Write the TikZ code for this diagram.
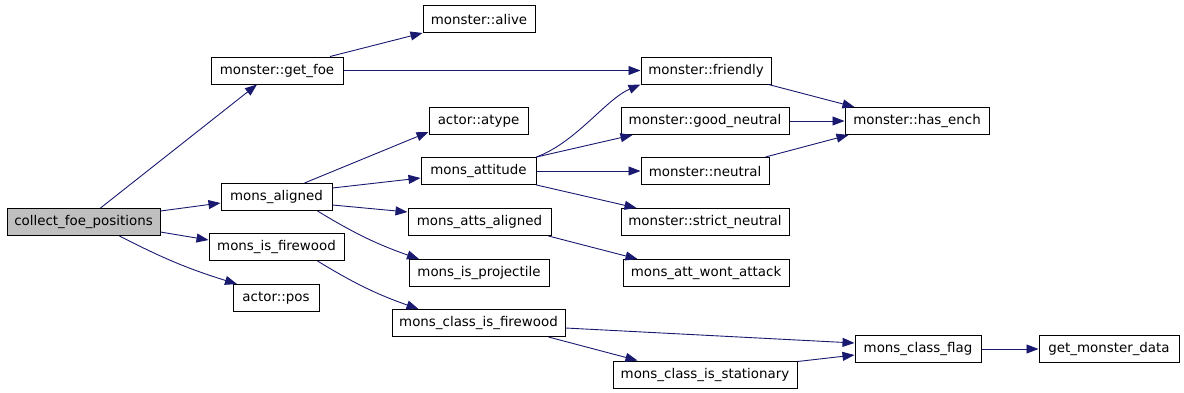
\documentclass[tikz,border=0pt]{standalone}
\usepackage{fontspec}
\setmainfont{DejaVu Sans}
\usepackage{tikz}
\usetikzlibrary{arrows.meta}

\definecolor{callblue}{HTML}{191970}
\definecolor{rootgrey}{HTML}{BFBFBF}

\tikzset{
	fn/.style={shape=rectangle,draw=black,line width=1pt,minimum height=27pt,inner sep=0pt,font=\fontsize{13.4}{15}\selectfont},
	call/.style={color=callblue,line width=0.9pt,-{Triangle[length=12pt,width=9pt]}}
}

\begin{document}
\begin{tikzpicture}[x=1pt,y=-1pt]
	\useasboundingbox (0, 0) rectangle (1184, 392);

	\node[fn,fill=rootgrey,minimum width=153] (cfp) at (83.5, 222)  {collect\_foe\_positions};
	\node[fn,minimum width=132] (getfoe)   at (277, 70.5)   {monster::get\_foe};
	\node[fn,minimum width=112] (alive)    at (479, 19)     {monster::alive};
	\node[fn,minimum width=130] (friendly) at (706, 70.5)   {monster::friendly};
	\node[fn,minimum width=99]  (atype)    at (478.5, 121)  {actor::atype};
	\node[fn,minimum width=168] (goodneut) at (705, 121)    {monster::good\_neutral};
	\node[fn,minimum width=144] (hasench)  at (917, 121)    {monster::has\_ench};
	\node[fn,minimum width=111] (aligned)  at (276.5, 197)  {mons\_aligned};
	\node[fn,minimum width=115] (attitude) at (478.5, 171)  {mons\_attitude};
	\node[fn,minimum width=128] (neutral)  at (705, 171)    {monster::neutral};
	\node[fn,minimum width=143] (attsal)   at (479.5, 222)  {mons\_atts\_aligned};
	\node[fn,minimum width=168] (strictn)  at (705, 222)    {monster::strict\_neutral};
	\node[fn,minimum width=135] (firewood) at (276.5, 247)  {mons\_is\_firewood};
	\node[fn,minimum width=140] (project)  at (479, 273)    {mons\_is\_projectile};
	\node[fn,minimum width=166] (wontatt)  at (706, 273)    {mons\_att\_wont\_attack};
	\node[fn,minimum width=86]  (pos)      at (276, 298)    {actor::pos};
	\node[fn,minimum width=173] (clsfire)  at (478.5, 323)  {mons\_class\_is\_firewood};
	\node[fn,minimum width=184] (clsstat)  at (705, 374.5)  {mons\_class\_is\_stationary};
	\node[fn,minimum width=126] (clsflag)  at (918, 349)    {mons\_class\_flag};
	\node[fn,minimum width=140] (getdata)  at (1109, 349)   {get\_monster\_data};

	% calls from collect_foe_positions
	\path[call] ([xshift=17pt]cfp.north) edge ([xshift=-20pt]getfoe.south);
	\path[call] ([yshift=11pt]cfp.east) edge ([yshift=-6pt]aligned.west);
	\path[call] ([yshift=-10pt]cfp.east) edge ([yshift=7pt]firewood.west);
	\path[call] ([xshift=36pt]cfp.south) edge [bend right=5] ([xshift=-39pt]pos.north);

	\path[call] ([xshift=53pt]getfoe.north) edge (alive.south west);
	\path[call] (getfoe.east) edge (friendly.west);

	\path[call] ([xshift=-3pt]friendly.south east) edge ([xshift=10pt]hasench.north west);
	\path[call] (goodneut.east) edge (hasench.west);
	\path[call] ([xshift=-4pt]neutral.north east) edge ([xshift=4pt]hasench.south west);

	% calls from mons_aligned
	\path[call] ([xshift=28pt]aligned.north) edge ([yshift=3pt]atype.south west);
	\path[call] ([yshift=9pt]aligned.east) edge ([yshift=-7pt]attitude.west);
	\path[call] ([yshift=-8pt]aligned.east) edge ([yshift=10pt]attsal.west);
	\path[call] ([xshift=41pt]aligned.south) edge [bend right=6] ([xshift=-60pt]project.north);

	% calls from mons_attitude
	\draw[call] (attitude.north east) .. controls +(40,-15) and +(-35,15) .. (friendly.south west);
	\path[call] (attitude.north east) edge ([xshift=12pt]goodneut.south west);
	\path[call] (attitude.east) edge (neutral.west);
	\path[call] (attitude.south east) edge ([xshift=16pt]strictn.north west);

	\path[call] ([xshift=-3pt]attsal.south east) edge ([xshift=15pt]wontatt.north west);

	% firewood chain
	\path[call] ([xshift=41pt]firewood.south) edge [bend right=6] ([xshift=-60pt]clsfire.north);
	\path[call] ([yshift=-5pt]clsfire.east) edge ([yshift=6pt]clsflag.west);
	\path[call] ([xshift=-17pt]clsfire.south east) edge ([xshift=25pt]clsstat.north west);
	\path[call] ([yshift=-1pt]clsstat.north east) edge ([yshift=-6pt]clsflag.west);
	\path[call] (clsflag.east) edge (getdata.west);

\end{tikzpicture}
\end{document}
